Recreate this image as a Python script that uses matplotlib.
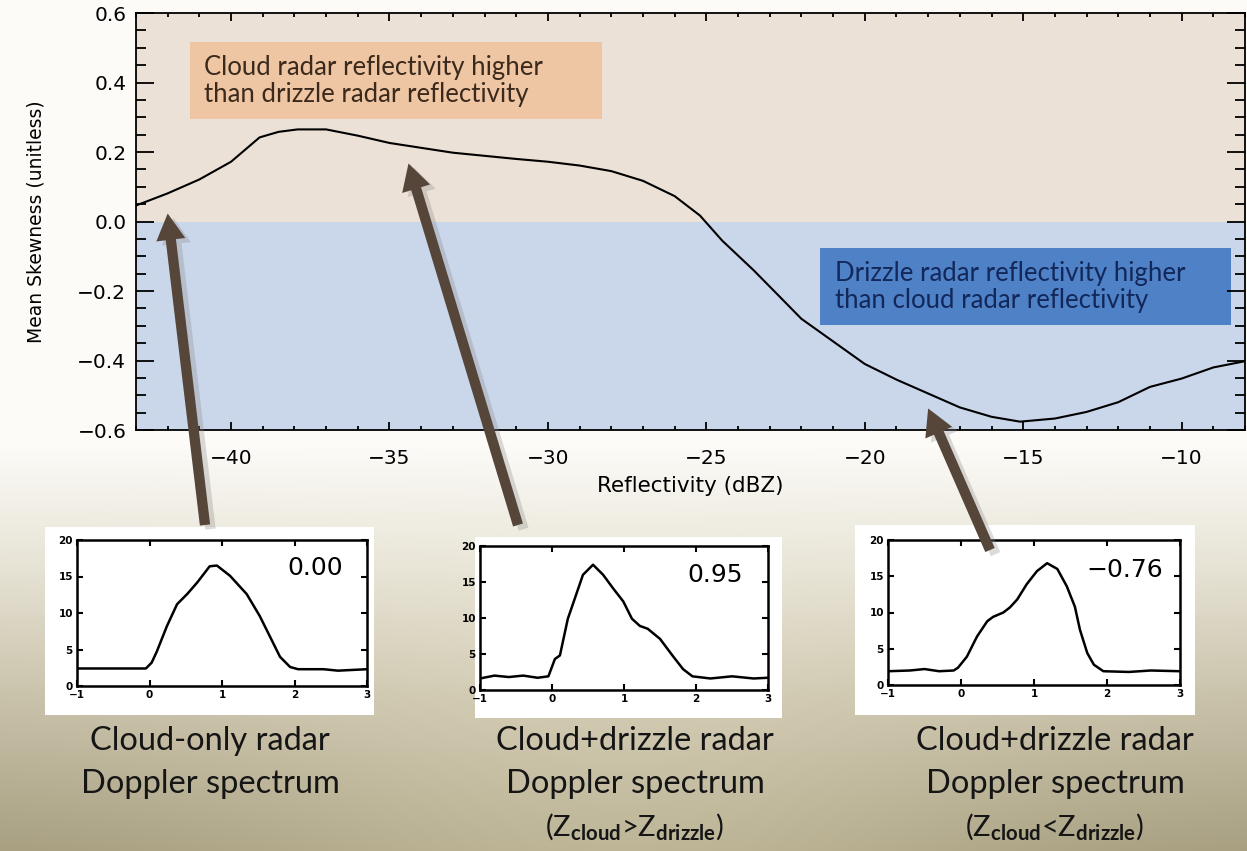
import numpy as np
import matplotlib.pyplot as plt
from matplotlib.patches import Rectangle
import matplotlib.patheffects as pe

# mean skewness vs reflectivity
refl = [-43.0, -42.0, -41.0, -40.0, -39.1, -38.5, -37.9, -37.0, -36.0, -35.0,
        -34.0, -33.0, -32.0, -31.0, -30.0, -29.0, -28.0, -27.0, -26.0, -25.2,
        -24.5, -23.5, -22.7, -22.0, -21.0, -20.0, -19.0, -18.0, -17.0, -16.0,
        -15.1, -14.0, -13.0, -12.0, -11.0, -10.0, -9.0, -8.0]
skew = [0.046, 0.081, 0.121, 0.172, 0.242, 0.258, 0.265, 0.265, 0.247, 0.226,
        0.212, 0.198, 0.189, 0.180, 0.172, 0.161, 0.145, 0.117, 0.073, 0.017,
        -0.055, -0.141, -0.215, -0.280, -0.345, -0.410, -0.455, -0.495, -0.535, -0.562,
        -0.576, -0.567, -0.548, -0.520, -0.476, -0.452, -0.420, -0.402]

# the three example Doppler spectra
vel1 = [-1.0, -0.05, 0.03, 0.10, 0.24, 0.38, 0.52, 0.66, 0.83, 0.93, 1.11, 1.34,
        1.52, 1.66, 1.80, 1.94, 2.05, 2.4, 2.6, 3.0]
pow1 = [2.4, 2.4, 3.2, 4.7, 8.2, 11.2, 12.6, 14.2, 16.4, 16.5, 15.1, 12.6,
        9.6, 6.8, 4.0, 2.6, 2.3, 2.3, 2.1, 2.3]
vel2 = [-1.0, -0.8, -0.6, -0.4, -0.2, -0.05, 0.04, 0.11, 0.22, 0.32, 0.43, 0.57,
        0.71, 0.85, 0.99, 1.11, 1.22, 1.33, 1.50, 1.68, 1.82, 1.95, 2.2, 2.5, 2.8, 3.0]
pow2 = [1.6, 2.0, 1.8, 2.0, 1.7, 1.9, 4.3, 4.8, 9.9, 12.8, 16.0, 17.4,
        16.0, 14.1, 12.3, 9.9, 8.9, 8.5, 7.1, 4.7, 2.9, 1.9, 1.6, 1.9, 1.6, 1.7]
vel3 = [-1.0, -0.7, -0.5, -0.3, -0.1, -0.04, 0.08, 0.22, 0.36, 0.44, 0.58, 0.67,
        0.77, 0.90, 1.04, 1.18, 1.32, 1.45, 1.56, 1.63, 1.73, 1.82, 1.95, 2.3, 2.6, 3.0]
pow3 = [1.9, 2.0, 2.2, 1.9, 2.0, 2.4, 3.9, 6.7, 8.8, 9.4, 10.0, 10.7,
        11.8, 13.9, 15.7, 16.8, 16.0, 13.6, 10.8, 7.6, 4.4, 2.8, 1.9, 1.8, 2.0, 1.9]
spec_skew = ['0.00', '0.95', '\u22120.76']

captions = [
    ['Cloud-only radar', 'Doppler spectrum'],
    ['Cloud+drizzle radar', 'Doppler spectrum', r'(Z$_{\bf{cloud}}$>Z$_{\bf{drizzle}}$)'],
    ['Cloud+drizzle radar', 'Doppler spectrum', r'(Z$_{\bf{cloud}}$<Z$_{\bf{drizzle}}$)'],
]

plt.rcParams['mathtext.fontset'] = 'custom'
plt.rcParams['mathtext.rm'] = 'Lato'
plt.rcParams['mathtext.bf'] = 'Lato:bold'

W, H = 1247, 851
fig = plt.figure(figsize=(W / 100, H / 100), dpi=100)

# slide background: white on top, khaki gradient at the bottom
bg = fig.add_axes([0, 0, 1, 1], zorder=-1)
rows = np.arange(H)[:, None]
cols = np.arange(W)[None, :]
t = np.clip((rows - 445) / 406.0, 0, 1)
stops = [0.0, 0.3, 0.6, 1.0]
img = np.zeros((H, W, 3))
for c, vals in enumerate([(252, 230, 202, 165), (251, 226, 195, 157), (248, 212, 172, 126)]):
    img[:, :, c] = np.interp(t, stops, vals) * np.ones((1, W))
# a softer, lighter band across the middle bottom
band = np.exp(-((cols - 620) / 420.0) ** 2) * t ** 1.5 * 24
img = np.clip(img + band[:, :, None], 0, 255) / 255.0
bg.imshow(img, aspect='auto', extent=[0, W, H, 0])
bg.set_xlim(0, W)
bg.set_ylim(H, 0)
bg.axis('off')

# main skewness plot
ax = fig.add_axes([136 / W, 1 - 430 / H, 1109 / W, 417 / H], zorder=2)
ax.axhspan(0, 0.6, color='#ebe1d6', lw=0)
ax.axhspan(-0.6, 0, color='#cad6ea', lw=0)
ax.plot(refl, skew, color='black', lw=1.5)
ax.set_xlim(-43, -8)
ax.set_ylim(-0.6, 0.6)
ax.set_xticks([-40, -35, -30, -25, -20, -15, -10])
ax.set_xticks(np.arange(-43, -7), minor=True)
ax.set_yticks([-0.6, -0.4, -0.2, 0.0, 0.2, 0.4, 0.6])
ax.set_yticks(np.arange(-0.6, 0.61, 0.05), minor=True)
ax.set_yticklabels(['\u22120.6', '\u22120.4', '\u22120.2', '0.0', '0.2', '0.4', '0.6'])
ax.tick_params(which='both', direction='in', top=True, right=True, width=1.3,
               labelsize=14.5)
ax.tick_params(axis='x', which='major', length=6, pad=14)
ax.tick_params(axis='x', which='minor', length=3)
ax.tick_params(axis='y', which='major', length=13, pad=7)
ax.tick_params(axis='y', which='minor', length=7)
for s in ax.spines.values():
    s.set_linewidth(1.3)
ax.set_xlabel('Reflectivity (dBZ)', fontsize=15.5)
ax.set_ylabel('Mean Skewness (unitless)', fontsize=13.5)
ax.xaxis.set_label_coords(0.5, -0.11)
ax.yaxis.set_label_coords(-0.082, 0.5)

ax.add_patch(Rectangle((0.0487, 0.7458), 0.3715, 0.1847, transform=ax.transAxes,
                       color='#efc6a4', lw=0))
ax.text(0.0613, 0.838, 'Cloud radar reflectivity higher\nthan drizzle radar reflectivity',
        transform=ax.transAxes, va='center', ha='left', fontsize=18.5,
        family='Lato', color='#3b2a1c', linespacing=1.1)
ax.add_patch(Rectangle((0.6168, 0.2518), 0.3706, 0.1847, transform=ax.transAxes,
                       color='#4f81c7', lw=0))
ax.text(0.6303, 0.344, 'Drizzle radar reflectivity higher\nthan cloud radar reflectivity',
        transform=ax.transAxes, va='center', ha='left', fontsize=18.5,
        family='Lato', color='#13285a', linespacing=1.1)

# arrows from the spectra up to the curve
arrows = [((-42.0, 0.023), (205, 525)), ((-34.4, 0.167), (518, 525)),
          ((-18.0, -0.538), (990, 550))]
for tip, tail in arrows:
    ax.annotate('', xy=tip, xycoords='data',
                xytext=(tail[0] / W, 1 - tail[1] / H), textcoords='figure fraction',
                annotation_clip=False,
                arrowprops=dict(arrowstyle='simple,head_length=0.95,head_width=1.05,tail_width=0.37',
                                mutation_scale=20, fc='#56463a', ec='none', lw=0,
                                shrinkA=0, shrinkB=0,
                                path_effects=[pe.SimplePatchShadow(offset=(4, -3), shadow_rgbFace='#888888', alpha=0.3),
                                              pe.Normal()]))

# inset spectra
boxes = [(45, 527, 374, 715), (475, 537, 782, 718), (855, 525, 1195, 715)]
frames = [(77, 540, 367, 686), (480, 546, 768, 690), (888, 540, 1180, 685)]
label_pos = [(0.917, 0.81), (0.913, 0.80), (0.942, 0.79)]
spectra = [(vel1, pow1), (vel2, pow2), (vel3, pow3)]
for i in range(3):
    x0, y0, x1, y1 = boxes[i]
    fig.add_artist(Rectangle((x0 / W, 1 - y1 / H), (x1 - x0) / W, (y1 - y0) / H,
                             transform=fig.transFigure, color='white', lw=0, zorder=0.5))
    x0, y0, x1, y1 = frames[i]
    sx = fig.add_axes([x0 / W, 1 - y1 / H, (x1 - x0) / W, (y1 - y0) / H], zorder=1)
    sx.plot(spectra[i][0], spectra[i][1], color='black', lw=1.8)
    sx.set_xlim(-1, 3)
    sx.set_ylim(0, 20)
    sx.set_xticks([-1, 0, 1, 2, 3])
    sx.set_yticks([0, 5, 10, 15, 20])
    sx.set_xticklabels(['\u22121', '0', '1', '2', '3'])
    sx.tick_params(direction='in', top=True, right=True, length=4, width=1.5,
                   labelsize=7.5, pad=3)
    for lab in sx.get_xticklabels() + sx.get_yticklabels():
        lab.set_fontweight('bold')
    for s in sx.spines.values():
        s.set_linewidth(1.8)
    sx.text(label_pos[i][0], label_pos[i][1], spec_skew[i], transform=sx.transAxes,
            ha='right', va='center', fontsize=18)

# captions under the spectra
cap_x = [210, 635, 1055]
cap_y = [750, 793, 836]
cap_size = [23.5, 23.5, 21]
for i in range(3):
    for j, line in enumerate(captions[i]):
        fig.text(cap_x[i] / W, 1 - cap_y[j] / H, line, ha='center', va='baseline',
                 fontsize=cap_size[j], family='Lato', color='#151515')

fig.savefig('out.png', dpi=100)
